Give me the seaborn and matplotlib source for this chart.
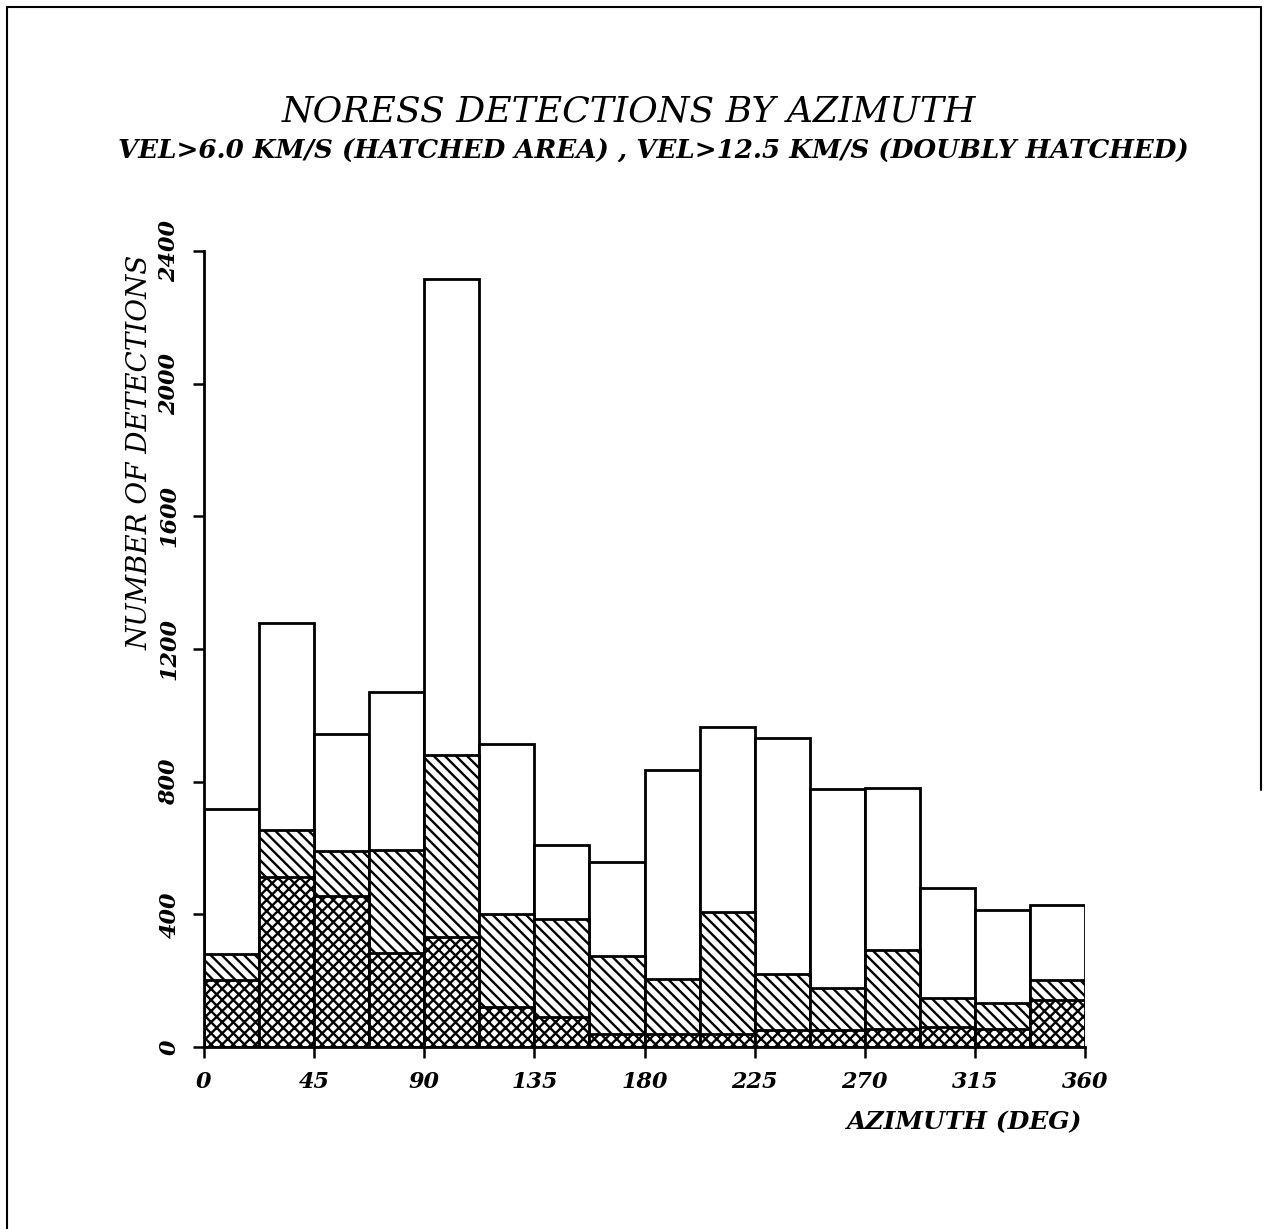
import numpy as np
import pandas as pd
import seaborn as sns
import matplotlib
matplotlib.use("Agg")
import matplotlib.pyplot as plt
from matplotlib.lines import Line2D

# ---- data ----
bin_edges = [0, 22.5, 45, 67.5, 90, 112.5, 135, 157.5, 180, 202.5, 225,
             247.5, 270, 292.5, 315, 337.5, 360]
total_counts = [718, 1277, 944, 1069, 2316, 914, 610, 559, 835, 965, 933, 778, 781, 479, 412, 427]
vel6_counts = [281, 653, 592, 594, 879, 402, 387, 275, 204, 407, 219, 179, 293, 148, 133, 201]
vel125_counts = [201, 512, 454, 283, 331, 120, 90, 40, 40, 40, 50, 50, 55, 60, 55, 141]
x_ticks = [0, 45, 90, 135, 180, 225, 270, 315, 360]
y_ticks = [0, 400, 800, 1200, 1600, 2000, 2400]

centers = [(a + b) / 2 for a, b in zip(bin_edges[:-1], bin_edges[1:])]
df = pd.DataFrame({"azimuth": centers, "total": total_counts,
                   "vel6": vel6_counts, "vel125": vel125_counts})

sns.set_theme(style="white")
plt.rcParams["hatch.linewidth"] = 1.7
plt.rcParams["font.family"] = ["DejaVu Serif"]
plt.rcParams["text.color"] = "black"
plt.rcParams["xtick.color"] = "black"
plt.rcParams["ytick.color"] = "black"

fig = plt.figure(figsize=(12.70, 12.29), dpi=100)
ax = fig.add_axes([204 / 1270, 1 - 1047 / 1229, (1085 - 204) / 1270, (1047 - 251) / 1229])

common = dict(x="azimuth", bins=bin_edges, ax=ax, element="bars", fill=True,
              edgecolor="black", linewidth=2.0, alpha=1)
sns.histplot(data=df, weights="total", color="white", **common)
sns.histplot(data=df, weights="vel6", color="white", hatch="\\\\\\", **common)
sns.histplot(data=df, weights="vel125", color="white", hatch="xxx", **common)

ax.set_xlim(0, 360)
ax.set_ylim(0, 2400)
ax.set_xticks(x_ticks)
ax.set_yticks(y_ticks)
tick_font = dict(family="DejaVu Serif", style="italic", weight="bold", size=16, color="black")
ax.set_xticklabels([str(v) for v in x_ticks], fontdict=tick_font)
ax.set_yticklabels([str(v) for v in y_ticks], fontdict=tick_font, rotation=90, va="center")
ax.tick_params(axis="both", direction="out", length=8, width=1.8, color="black", pad=9)
ax.tick_params(axis="x", bottom=True)
ax.tick_params(axis="y", left=True)
for side in ["top", "right"]:
    ax.spines[side].set_visible(False)
for side in ["left", "bottom"]:
    ax.spines[side].set_color("black")
    ax.spines[side].set_linewidth(2.0)
ax.set_xlabel("")
ax.set_ylabel("")
ax.grid(False)

# axis labels as in the reference
fig.text(1082 / 1270, 1 - 1122 / 1229, "AZIMUTH (DEG)", ha="right", va="center",
         family="DejaVu Serif", style="italic", weight="bold", size=18, color="black")
fig.text(140 / 1270, 1 - 452 / 1229, "NUMBER OF DETECTIONS", ha="center", va="center",
         rotation=90, family="DejaVu Serif", style="italic", size=20, color="black")

# titles
fig.text(629 / 1270, 1 - 111 / 1229, "NORESS DETECTIONS BY AZIMUTH", ha="center", va="center",
         family="DejaVu Serif", style="italic", size=26, color="black")
fig.text(653 / 1270, 1 - 151 / 1229,
         "VEL>6.0 KM/S (HATCHED AREA) , VEL>12.5 KM/S (DOUBLY HATCHED)",
         ha="center", va="center", family="DejaVu Serif", style="italic", weight="bold",
         size=18.8, color="black")

# page border
lx, ty, rx = 7 / 1270, 1 - 7 / 1229, 1261 / 1270
fig.add_artist(Line2D([lx, lx], [0, ty], color="black", lw=1.5, transform=fig.transFigure))
fig.add_artist(Line2D([lx, rx], [ty, ty], color="black", lw=1.5, transform=fig.transFigure))
fig.add_artist(Line2D([rx, rx], [ty, 1 - 790 / 1229], color="black", lw=1.5, transform=fig.transFigure))

fig.savefig("out.png", dpi=100, facecolor="white")
